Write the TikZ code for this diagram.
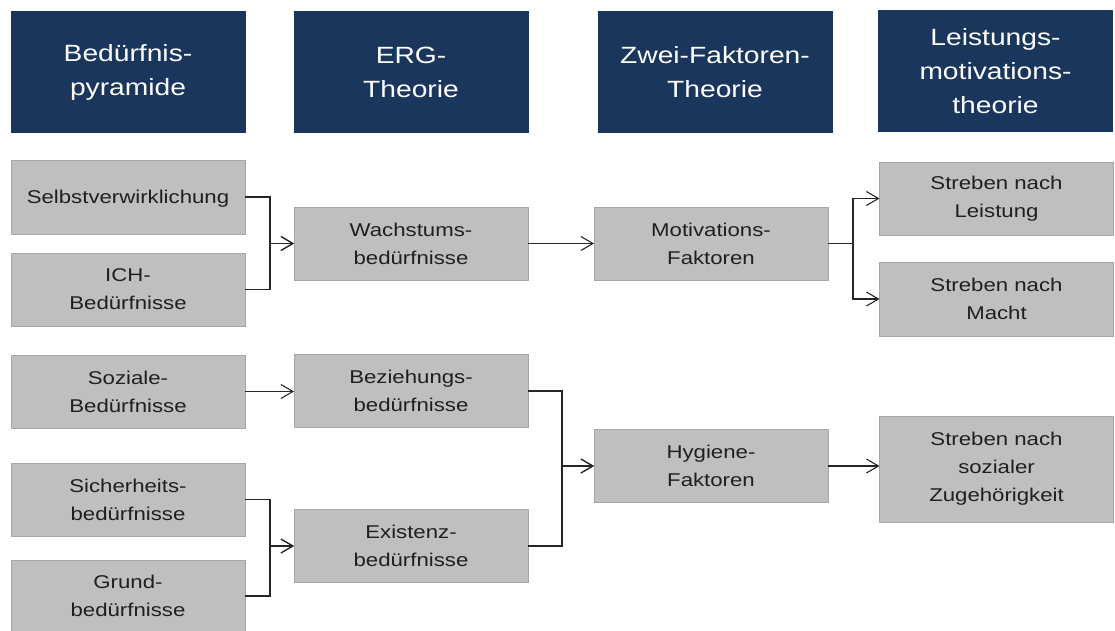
\documentclass[tikz,border=0pt]{standalone}
\usepackage{fontspec}
\setmainfont[FakeStretch=1.2]{Liberation Sans}
\usetikzlibrary{arrows.meta}
\definecolor{navy}{RGB}{27,54,93}
\definecolor{boxgray}{RGB}{191,191,191}
\definecolor{boxline}{RGB}{166,166,166}
\definecolor{linecol}{RGB}{38,38,38}

\begin{document}
\begin{tikzpicture}[x=1pt,y=-1pt,
  head/.style={fill=navy, text=white, minimum width=235pt, minimum height=122pt,
    inner sep=0pt, outer sep=0pt, align=center, font=\fontsize{23.5}{34}\selectfont},
  item/.style={fill=boxgray, draw=boxline, line width=0.8pt, minimum width=234pt,
    minimum height=73pt, inner sep=0pt, outer sep=0pt, align=center, text=black!88,
    font=\fontsize{18.5}{28}\selectfont},
  link/.style={draw=linecol, line width=1.1pt},
  arr/.style={link, -{Straight Barb[length=12pt,width=14pt,line width=1.1pt]}}]

\useasboundingbox (0,0) rectangle (1115,631);

% column headings
\node[head] (h1) at (128,72)   {Bedürfnis-\\pyramide};
\node[head] (h2) at (411,72)   {ERG-\\Theorie};
\node[head] (h3) at (715,72)   {Zwei-Faktoren-\\Theorie};
\node[head] (h4) at (995.5,71) {Leistungs-\\motivations-\\theorie};

% needs pyramid
\node[item, minimum height=74pt, text depth=0pt] (selbst) at (128,197) {Selbstverwirklichung};
\node[item] (ich)   at (128,289.5) {ICH-\\Bedürfnisse};
\node[item] (soz)   at (128,391.5) {Soziale-\\Bedürfnisse};
\node[item] (sich)  at (128,499.5) {Sicherheits-\\bedürfnisse};
\node[item, minimum height=72pt] (grund) at (128,596) {Grund-\\bedürfnisse};

% ERG theory
\node[item] (wachs) at (411,243.5) {Wachstums-\\bedürfnisse};
\node[item] (bez)   at (411,391)   {Beziehungs-\\bedürfnisse};
\node[item] (exist) at (411,546)   {Existenz-\\bedürfnisse};

% two-factor theory
\node[item] (motiv) at (711,243.5) {Motivations-\\Faktoren};
\node[item] (hyg)   at (711,466)   {Hygiene-\\Faktoren};

% achievement motivation
\node[item] (leist) at (996.5,198.5) {Streben nach\\Leistung};
\node[item, minimum height=74pt] (macht) at (996.5,299) {Streben nach\\Macht};
\node[item, minimum height=106pt] (zug) at (996.5,469) {Streben nach\\sozialer\\Zugehörigkeit};

% connectors
\draw[arr] (selbst.east) -- ++(25,0) |- (wachs.west);
\draw[arr] (ich.east) -- ++(25,0) |- (wachs.west);
\draw[arr] (wachs.east) -- (motiv.west);
\draw[arr] (motiv.east) -- ++(25,0) |- (leist.west);
\draw[arr] (motiv.east) -- ++(25,0) |- (macht.west);
\draw[arr] (soz.east) -- (soz.east -| bez.west);
\draw[arr] (bez.east) -- ++(34,0) |- (hyg.west);
\draw[arr] (exist.east) -- ++(34,0) |- (hyg.west);
\draw[arr] (hyg.east) -- (hyg.east -| zug.west);
\draw[arr] (sich.east) -- ++(25,0) |- (exist.west);
\draw[arr] (grund.east) -- ++(25,0) |- (exist.west);
\end{tikzpicture}
\end{document}
